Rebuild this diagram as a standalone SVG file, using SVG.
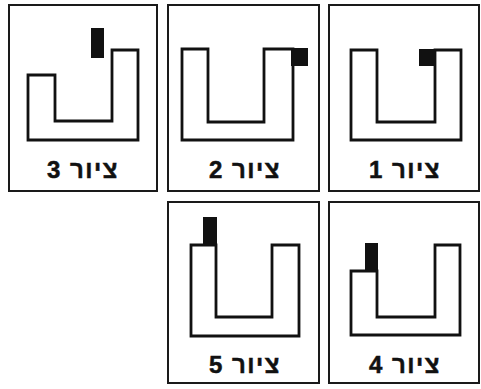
<svg xmlns="http://www.w3.org/2000/svg" width="481" height="389" viewBox="0 0 481 389">
<style>
.frame{fill:#fff;stroke:#1a1a1a;stroke-width:2}
.u{fill:none;stroke:#111;stroke-width:2.8;stroke-linejoin:miter}
.blk{fill:#111}
.lbl{font-family:"Liberation Sans","DejaVu Sans",sans-serif;font-weight:bold;font-size:24px;letter-spacing:1.5px;fill:#111;stroke:#111;stroke-width:0.5;text-anchor:middle}
</style>
<rect width="481" height="389" fill="#fff"/>
<g id="fig3">
<rect class="frame" x="9" y="5" width="148" height="186"/>
<path class="u" d="M28,75 H55 V121 H112 V50 H138 V140 H28 Z"/>
<rect class="blk" x="91" y="28" width="13" height="30"/>
<text class="lbl" x="83" y="178" direction="rtl">ציור 3</text>
</g>
<g id="fig2">
<rect class="frame" x="168" y="5" width="151" height="186"/>
<path class="u" d="M182,49 H208 V122 H264 V49 H293 V140 H182 Z"/>
<rect class="blk" x="291" y="48" width="17" height="18"/>
<text class="lbl" x="245" y="178" direction="rtl">ציור 2</text>
</g>
<g id="fig1">
<rect class="frame" x="329" y="5" width="150" height="186"/>
<path class="u" d="M351,50 H377 V122 H435 V50 H461 V140 H351 Z"/>
<rect class="blk" x="419" y="49" width="17" height="17"/>
<text class="lbl" x="405" y="178" direction="rtl">ציור 1</text>
</g>
<g id="fig5">
<rect class="frame" x="168" y="202" width="151" height="181"/>
<path class="u" d="M191,245 H216 V317 H272 V245 H299 V336 H191 Z"/>
<rect class="blk" x="203" y="217" width="14" height="29"/>
<text class="lbl" x="245" y="373" direction="rtl">ציור 5</text>
</g>
<g id="fig4">
<rect class="frame" x="329" y="202" width="150" height="181"/>
<path class="u" d="M351,271 H377 V317 H435 V245 H460 V335 H351 Z"/>
<rect class="blk" x="365" y="243" width="13" height="29"/>
<text class="lbl" x="405" y="373" direction="rtl">ציור 4</text>
</g>
</svg>
